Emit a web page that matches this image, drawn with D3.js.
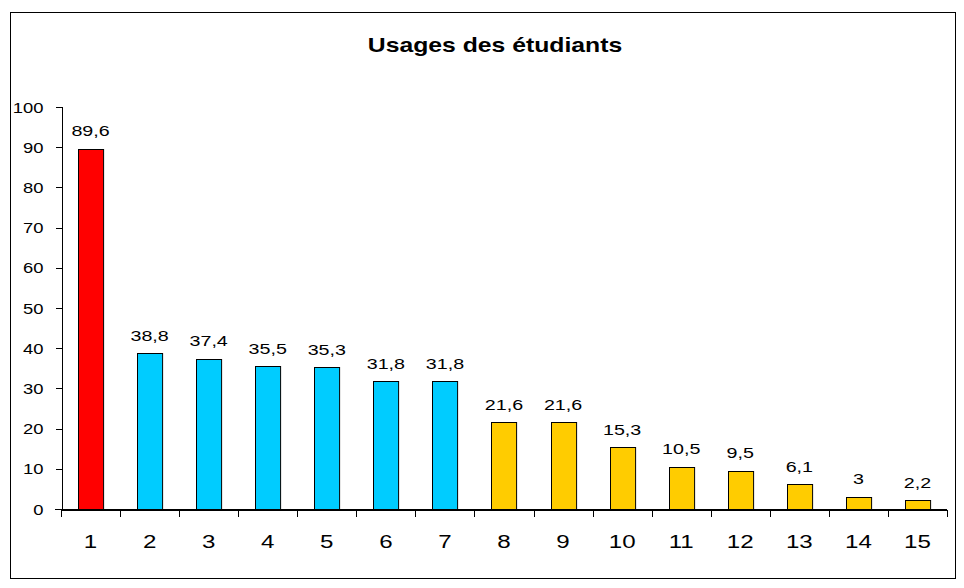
<!DOCTYPE html>
<html lang="fr">
<head>
<meta charset="UTF-8">
<title>Usages des étudiants</title>
<script src="https://d3js.org/d3.v7.min.js"></script>
<style>
  body { margin: 0; background: #fff; }
  svg { display: block; font-family: Arial, "Liberation Sans", sans-serif; }
  .axis path, .axis line { stroke: #000; shape-rendering: crispEdges; }
</style>
</head>
<body>
<svg width="964" height="588"></svg>
<script>
// chart data
const categories = ["1","2","3","4","5","6","7","8","9","10","11","12","13","14","15"];
const values = [89.6, 38.8, 37.4, 35.5, 35.3, 31.8, 31.8, 21.6, 21.6, 15.3, 10.5, 9.5, 6.1, 3, 2.2];
const barColors = ["#ff0000","#00ccff","#00ccff","#00ccff","#00ccff","#00ccff","#00ccff",
                   "#ffcc00","#ffcc00","#ffcc00","#ffcc00","#ffcc00","#ffcc00","#ffcc00","#ffcc00"];
const yTicks = [0, 10, 20, 30, 40, 50, 60, 70, 80, 90, 100];

const svg = d3.select("svg");
const stretch = 1.27; // the original text is wider than tall

// outer frame
svg.append("rect")
  .attr("x", 10.5).attr("y", 12.5)
  .attr("width", 945).attr("height", 566)
  .attr("fill", "#fff").attr("stroke", "#000").attr("stroke-width", 1);

const plotLeft = 61, plotRight = 947, plotTop = 107, plotBottom = 509;

const x = d3.scaleBand().domain(categories).range([plotLeft, plotRight])
  .paddingInner(0.575).paddingOuter(0.2875);
const xEdges = d3.scaleLinear().domain([0, categories.length]).range([plotLeft, plotRight]);
const y = d3.scaleLinear().domain([0, 100]).range([plotBottom, plotTop]);

// title
svg.append("text")
  .attr("transform", `translate(495,52) scale(${stretch},1)`)
  .attr("text-anchor", "middle")
  .style("font-size", "19.5px").style("font-weight", "bold")
  .text("Usages des étudiants");

// y axis
const yAxis = svg.append("g").attr("class", "axis")
  .attr("transform", `translate(${plotLeft + 0.5},0)`)
  .call(d3.axisLeft(y).tickValues(yTicks).tickSize(6).tickFormat(""));
yAxis.selectAll(".tick")
  .append("text")
  .attr("transform", `translate(-18,5) scale(${stretch},1)`)
  .attr("text-anchor", "end")
  .attr("fill", "#000")
  .style("font-size", "14.5px")
  .text(d => d);

// bars
svg.selectAll(".bar").data(values).enter()
  .append("rect")
  .attr("class", "bar")
  .attr("x", (d, i) => Math.round(x(categories[i])) + 0.5)
  .attr("y", d => Math.round(y(d)) + 0.5)
  .attr("width", x.bandwidth())
  .attr("height", d => plotBottom - Math.round(y(d)))
  .attr("fill", (d, i) => barColors[i])
  .attr("stroke", "#000").attr("stroke-width", 1);

// value labels
svg.selectAll(".val").data(values).enter()
  .append("text")
  .attr("class", "val")
  .attr("transform", (d, i) =>
    `translate(${x(categories[i]) + x.bandwidth() / 2},${y(d) - 12.5}) scale(${stretch},1)`)
  .attr("text-anchor", "middle")
  .style("font-size", "15.5px")
  .text(d => String(d).replace(".", ","));

// x axis with ticks on category edges
svg.append("g").attr("class", "axis")
  .attr("transform", `translate(0,${plotBottom + 0.5})`)
  .call(d3.axisBottom(xEdges).tickValues(d3.range(0, categories.length + 1))
    .tickSize(7).tickSizeOuter(0).tickFormat(""));
svg.append("line")
  .attr("x1", plotLeft - 6).attr("x2", plotRight)
  .attr("y1", plotBottom + 0.5).attr("y2", plotBottom + 0.5)
  .attr("stroke", "#000");

// category labels
svg.selectAll(".cat").data(categories).enter()
  .append("text")
  .attr("class", "cat")
  .attr("transform", d => `translate(${x(d) + x.bandwidth() / 2},548) scale(${stretch},1)`)
  .attr("text-anchor", "middle")
  .style("font-size", "19px")
  .text(d => d);
</script>
</body>
</html>
